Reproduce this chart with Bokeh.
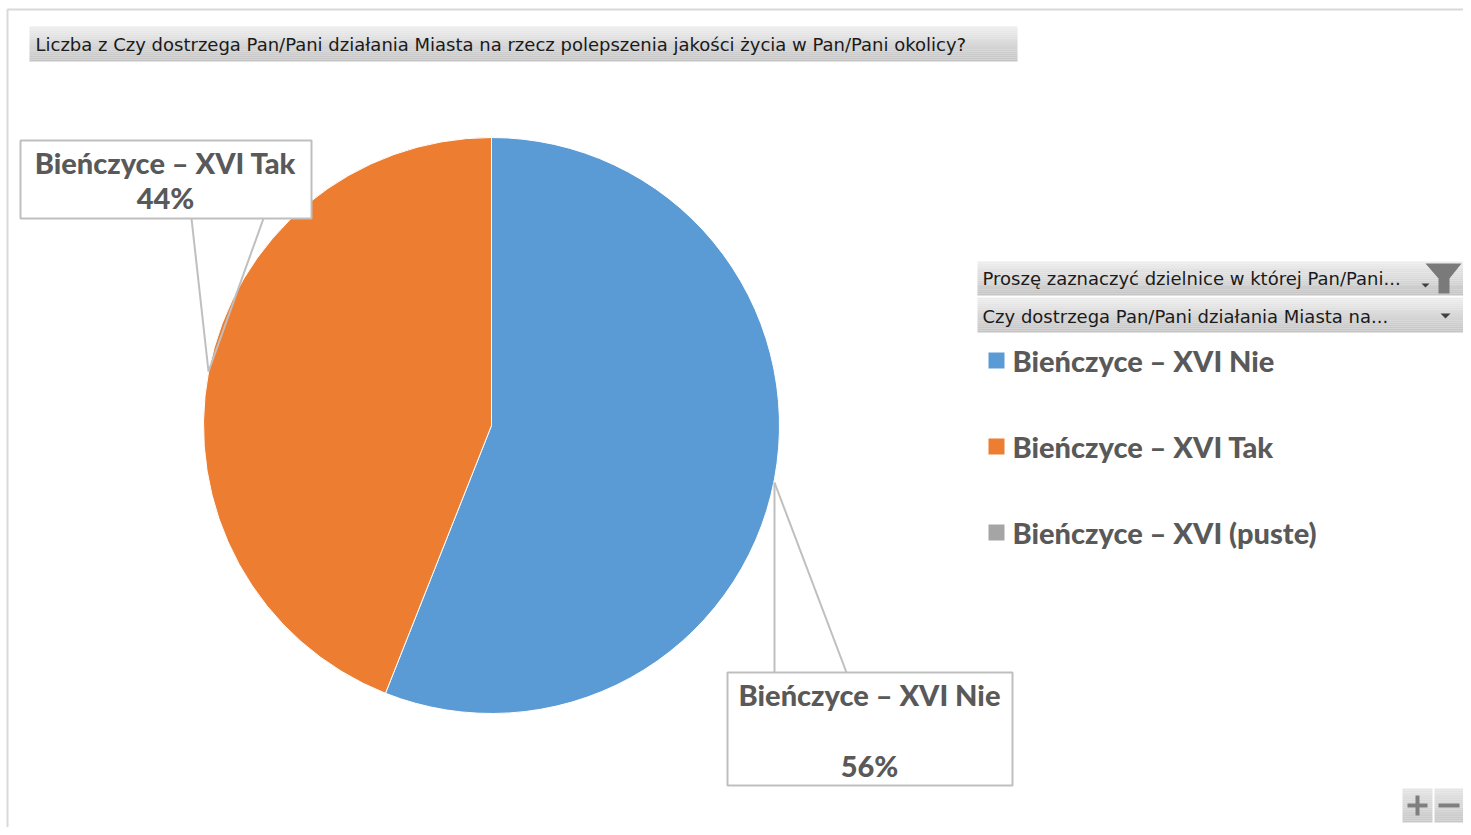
import numpy as np
from bokeh.plotting import figure
from bokeh.models import Range1d
from bokeh.core.properties import value
from bokeh.embed import file_html
from bokeh.resources import INLINE

# ---------------- data ----------------
title_text = ("Liczba z Czy dostrzega Pan/Pani działania Miasta na rzecz "
              "polepszenia jakości życia w Pan/Pani okolicy?")
categories = ["Bieńczyce – XVI Nie", "Bieńczyce – XVI Tak", "Bieńczyce – XVI (puste)"]
shares = [56, 44, 0]
colors = ["#5B9BD5", "#ED7D31", "#A5A5A5"]
pct_labels = ["56%", "44%", ""]
filter_labels = ["Proszę zaznaczyć dzielnice w której Pan/Pani...",
                 "Czy dostrzega Pan/Pani działania Miasta na..."]

# ---------------- figure ----------------
W, H = 1463, 827
p = figure(width=W, height=H, x_range=Range1d(0, W), y_range=Range1d(0, H),
           output_backend="svg", toolbar_location=None, min_border=0)
p.axis.visible = False
p.grid.visible = False
p.outline_line_color = None
p.background_fill_color = "white"
p.border_fill_color = "white"


def Y(sy):
    return H - sy


def grad_rect(x0, x1, y0, y1, c_top=(236, 236, 236), c_bot=(196, 196, 196), n=18):
    ys = np.linspace(y0, y1, n + 1)
    cols = []
    for i in range(n):
        t = i / (n - 1)
        c = tuple(int(round(a + (b - a) * t)) for a, b in zip(c_top, c_bot))
        cols.append("#%02x%02x%02x" % c)
    p.quad(left=[x0] * n, right=[x1] * n, top=[Y(v) for v in ys[:-1]],
           bottom=[Y(v) for v in ys[1:]], fill_color=cols, line_color=None)


FONT_UI = value("DejaVu Sans")
FONT_LBL = value("Lato Heavy")
LBL_STYLE = "normal"
TXT_GRAY = "#595959"
LBL_SIZE = "29px"
UI_SIZE = "18px"

# outer border (top & left)
p.line([7, 7, 1471], [Y(835), Y(9), Y(9)], line_color="#d9d9d9", line_width=2)

# title field button
grad_rect(29, 1017, 26, 61)
p.text(x=[35], y=[Y(44)], text=[title_text], text_font=FONT_UI, text_font_size=UI_SIZE,
       text_color="#1a1a1a", text_baseline="middle", text_align="left")

# ---------------- pie ----------------
cx, cy, r = 491, Y(425), 288
vals = np.array(shares, dtype=float)
frac = vals / vals.sum()
cum = np.cumsum(frac)
prev = np.concatenate([[0], cum[:-1]])
start = np.deg2rad(90 - cum * 360)
end = np.deg2rad(90 - prev * 360)
mask = vals > 0
p.wedge(x=[cx] * mask.sum(), y=[cy] * mask.sum(), radius=r,
        start_angle=list(start[mask]), end_angle=list(end[mask]),
        fill_color=[c for c, m in zip(colors, mask) if m],
        line_color="white", line_width=1)

# ---------------- data labels (callouts) ----------------
BOX_LINE = "#bfbfbf"
# Tak label
p.multi_line(xs=[[191, 208], [263, 208]], ys=[[Y(218), Y(371)], [Y(218), Y(371)]],
             line_color=BOX_LINE, line_width=2)
p.quad(left=[20], right=[311], top=[Y(140)], bottom=[Y(218)], fill_color="white",
       line_color=BOX_LINE, line_width=2)
p.text(x=[165, 165], y=[Y(162), Y(197)], text=[categories[1], pct_labels[1]],
       text_font=FONT_LBL, text_font_style=LBL_STYLE, text_font_size=LBL_SIZE,
       text_color=TXT_GRAY, text_align="center", text_baseline="middle")

# Nie label
p.multi_line(xs=[[774, 774], [774, 846]], ys=[[Y(482), Y(672)], [Y(482), Y(672)]],
             line_color=BOX_LINE, line_width=2)
p.quad(left=[727], right=[1012], top=[Y(672)], bottom=[Y(785)], fill_color="white",
       line_color=BOX_LINE, line_width=2)
p.text(x=[869, 869], y=[Y(694), Y(765)], text=[categories[0], pct_labels[0]],
       text_font=FONT_LBL, text_font_style=LBL_STYLE, text_font_size=LBL_SIZE,
       text_color=TXT_GRAY, text_align="center", text_baseline="middle")

# ---------------- filter buttons ----------------
grad_rect(977, 1463, 261, 295)
grad_rect(977, 1463, 297, 332)
p.text(x=[982, 982], y=[Y(278), Y(316)], text=filter_labels, text_font=FONT_UI,
       text_font_size=UI_SIZE, text_color="#1a1a1a", text_baseline="middle",
       text_align="left")
# funnel icon
p.patch(x=[1425, 1461, 1449, 1449, 1438, 1438],
        y=[Y(263), Y(263), Y(278), Y(293), Y(293), Y(278)],
        fill_color="#7a7a7a", line_color=None)
# dropdown arrows
p.patches(xs=[[1421, 1429, 1425], [1440, 1450, 1445]],
          ys=[[Y(283), Y(283), Y(287)], [Y(313), Y(313), Y(318)]],
          fill_color="#404040", line_color=None)

# ---------------- legend ----------------
leg_y = [Y(360 + 86 * i) for i in range(len(categories))]
p.rect(x=[996] * len(categories), y=leg_y, width=16, height=16, fill_color=colors,
       line_color=None)
p.text(x=[1012] * len(categories), y=leg_y, text=categories, text_font=FONT_LBL,
       text_font_style=LBL_STYLE, text_font_size=LBL_SIZE, text_color=TXT_GRAY,
       text_align="left", text_baseline="middle")

# ---------------- zoom buttons ----------------
grad_rect(1402, 1432, 788, 822, c_top=(228, 228, 228), c_bot=(200, 200, 200))
grad_rect(1434, 1463, 788, 822, c_top=(228, 228, 228), c_bot=(200, 200, 200))
p.multi_line(xs=[[1407, 1427], [1417, 1417], [1438, 1459]],
             ys=[[Y(805), Y(805)], [Y(795), Y(815)], [Y(805), Y(805)]],
             line_color="#7f7f7f", line_width=4)

open("out.html", "w").write(file_html(p, INLINE))
